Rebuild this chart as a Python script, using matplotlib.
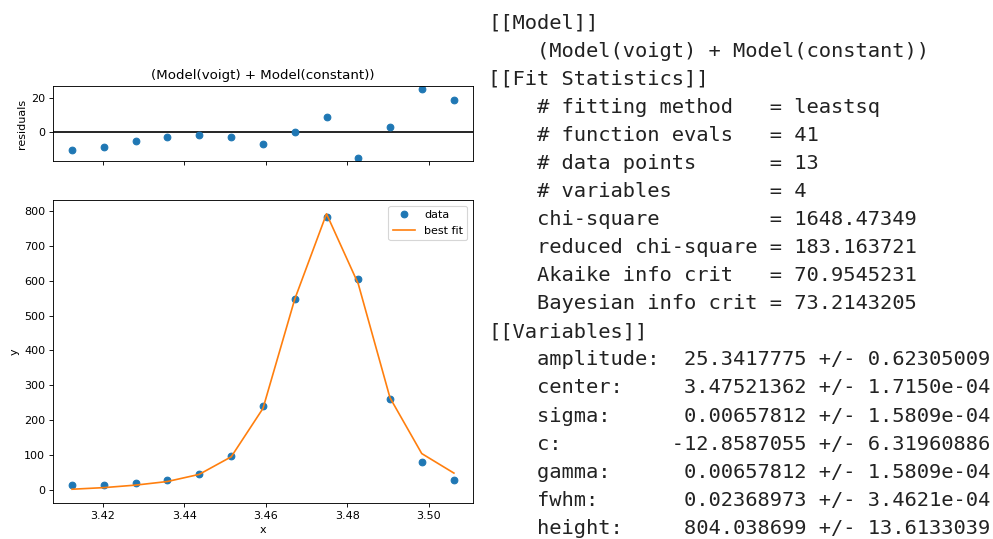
import matplotlib
matplotlib.use("Agg")
import matplotlib.pyplot as plt
import numpy as np

# values
x = [3.4124, 3.4202, 3.4280, 3.4358, 3.4436, 3.4515, 3.4593,
     3.4671, 3.4749, 3.4827, 3.4905, 3.4983, 3.5062]
y_data = [12.4, 15, 19, 27, 46, 98, 241, 547, 783, 606, 261, 79, 29]
y_fit = [1.7, 6.3, 13.5, 23.8, 44.2, 94.8, 233.7, 547, 792, 591, 264, 104, 48]
title = "(Model(voigt) + Model(constant))"

report = [
    "[[Model]]",
    "    (Model(voigt) + Model(constant))",
    "[[Fit Statistics]]",
    "    # fitting method   = leastsq",
    "    # function evals   = 41",
    "    # data points      = 13",
    "    # variables        = 4",
    "    chi-square         = 1648.47349",
    "    reduced chi-square = 183.163721",
    "    Akaike info crit   = 70.9545231",
    "    Bayesian info crit = 73.2143205",
    "[[Variables]]",
    "    amplitude:  25.3417775 +/- 0.62305009",
    "    center:     3.47521362 +/- 1.7150e-04",
    "    sigma:      0.00657812 +/- 1.5809e-04",
    "    c:         -12.8587055 +/- 6.31960886",
    "    gamma:      0.00657812 +/- 1.5809e-04",
    "    fwhm:       0.02368973 +/- 3.4621e-04",
    "    height:     804.038699 +/- 13.6133039",
]

W, H, DPI = 993, 539, 80
fig = plt.figure(figsize=(W / DPI, H / DPI), dpi=DPI)

ax_res = fig.add_axes([53 / W, 1 - 161 / H, 420 / W, 75 / H])
ax = fig.add_axes([53 / W, 1 - 503 / H, 420 / W, 303 / H], sharex=ax_res)

resid = np.array(y_fit) - np.array(y_data)
ax_res.axhline(0, color="k")
ax_res.plot(x, resid, "o")
ax_res.set_ylabel("residuals")
ax_res.set_title(title)
ax_res.tick_params(labelbottom=False)

ax.plot(x, y_data, "o", label="data")
ax.plot(x, y_fit, "-", label="best fit")
ax.set_xlabel("x")
ax.set_ylabel("y")
ax.legend(loc="best")

# fit report text on the right
for i, line in enumerate(report):
    yp = 23.3 + 28.05 * i
    fig.text(488 / W, 1 - yp / H, line, family="DejaVu Sans Mono",
             fontsize=18.3, color="#222222", va="center", ha="left")

fig.savefig("out.png", dpi=DPI)
